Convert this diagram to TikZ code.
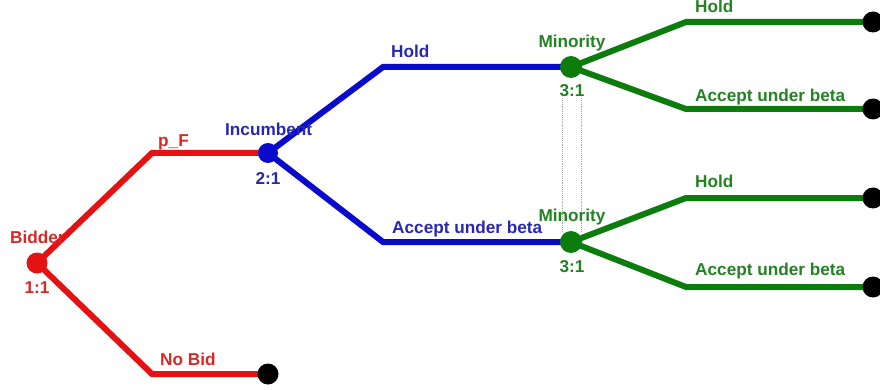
\documentclass[tikz,border=0pt]{standalone}
\usepackage{fontspec}
\setmainfont{Liberation Sans}
\usetikzlibrary{backgrounds}
\definecolor{tred}{RGB}{228,18,18}
\definecolor{tblue}{RGB}{10,10,205}
\definecolor{tgreen}{RGB}{12,125,12}
\definecolor{lred}{RGB}{215,40,40}
\definecolor{lblue}{RGB}{40,40,175}
\definecolor{lgreen}{RGB}{35,130,35}
\tikzset{
  dot/.style={circle,inner sep=0pt,minimum size=#1},
  lbl/.style={font=\fontsize{17.2}{19}\selectfont\bfseries,inner sep=0pt},
  branch/.style={line width=6pt,line join=miter},
  infoset/.style={densely dotted,line width=0.9pt,draw=black!35}
}
\begin{document}
\begin{tikzpicture}[x=1pt,y=-1pt]
\useasboundingbox (0,0) rectangle (880,390);
% nodes
\node[dot=21pt,fill=tred] (bid) at (37,263) {};
\node[dot=20pt,fill=tblue] (inc) at (268,153) {};
\node[dot=22pt,fill=tgreen] (minT) at (571,67) {};
\node[dot=22pt,fill=tgreen] (minB) at (571,242) {};
\node[dot=21pt,fill=black] (nob) at (268,374) {};
\node[dot=21pt,fill=black] (eA) at (873,22) {};
\node[dot=21pt,fill=black] (eB) at (873,109) {};
\node[dot=21pt,fill=black] (eC) at (873,198) {};
\node[dot=21pt,fill=black] (eD) at (873,287) {};
% corners
\coordinate (r1) at (152,153);
\coordinate (r2) at (152,374);
\coordinate (b1) at (383,67);
\coordinate (b2) at (383,242);
\coordinate (g1) at (686,22);
\coordinate (g2) at (686,109);
\coordinate (g3) at (686,198);
\coordinate (g4) at (686,287);
\coordinate (dTa) at (562,98);
\coordinate (dBa) at (562,232);
\coordinate (dTb) at (581,98);
\coordinate (dBb) at (581,232);
\begin{scope}[on background layer]
\draw[branch,tred] (bid.center) -- (r1) -- (inc.center);
\draw[branch,tred] (bid.center) -- (r2) -- (nob.center);
\draw[branch,tblue] (inc.center) -- (b1) -- (minT.center);
\draw[branch,tblue] (inc.center) -- (b2) -- (minB.center);
\draw[branch,tgreen] (minT.center) -- (g1) -- (eA.center);
\draw[branch,tgreen] (minT.center) -- (g2) -- (eB.center);
\draw[branch,tgreen] (minB.center) -- (g3) -- (eC.center);
\draw[branch,tgreen] (minB.center) -- (g4) -- (eD.center);
\draw[infoset] (dTa) -- (dBa);
\draw[infoset] (dTb) -- (dBb);
\end{scope}
% labels
\node[lbl,text=lred,anchor=base west] (tBid) at (10,243) {Bidder};
\node[lbl,text=lred,anchor=base] (tB11) at (37,293) {1:1};
\node[lbl,text=lred,anchor=base west] (tpF) at (158,147) {p\_F};
\node[lbl,text=lred,anchor=base west] (tNB) at (160,365) {No Bid};
\node[lbl,text=lblue,anchor=base west] (tInc) at (225,136) {Incumbent};
\node[lbl,text=lblue,anchor=base] (tI21) at (268,185) {2:1};
\node[lbl,text=lblue,anchor=base west] (tBH) at (391,58) {Hold};
\node[lbl,text=lblue,anchor=base west] (tBA) at (392,233) {Accept under beta};
\node[lbl,text=lgreen,anchor=base] (tMT) at (572,48) {Minority};
\node[lbl,text=lgreen,anchor=base] (tMT31) at (572,97) {3:1};
\node[lbl,text=lgreen,anchor=base] (tMB) at (572,222) {Minority};
\node[lbl,text=lgreen,anchor=base] (tMB31) at (572,272) {3:1};
\node[lbl,text=lgreen,anchor=base west] (tGH1) at (695,13) {Hold};
\node[lbl,text=lgreen,anchor=base west] (tGA1) at (695,102) {Accept under beta};
\node[lbl,text=lgreen,anchor=base west] (tGH2) at (695,188) {Hold};
\node[lbl,text=lgreen,anchor=base west] (tGA2) at (695,275) {Accept under beta};
\end{tikzpicture}
\end{document}
